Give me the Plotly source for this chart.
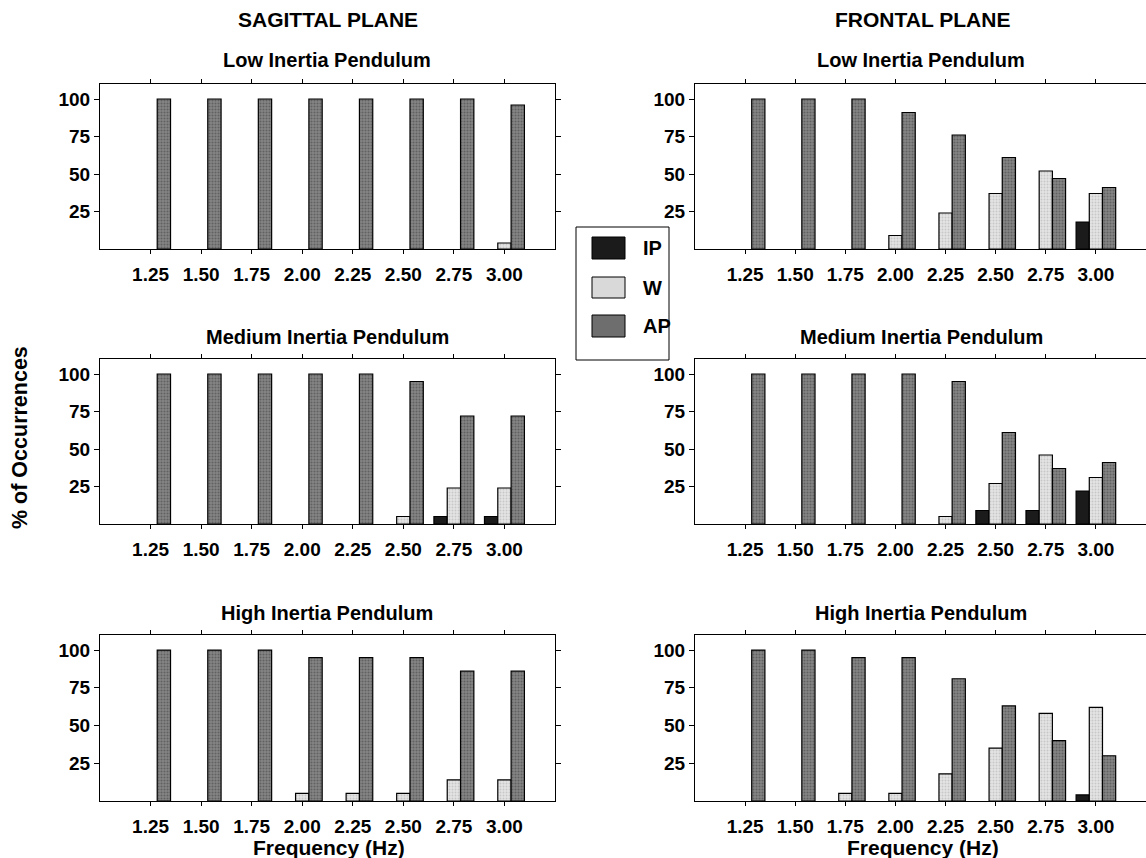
import plotly.graph_objects as go

# Stimulation frequencies (Hz) shared by every panel
frequencies = [1.25, 1.50, 1.75, 2.00, 2.25, 2.50, 2.75, 3.00]
freq_labels = ["1.25", "1.50", "1.75", "2.00", "2.25", "2.50", "2.75", "3.00"]
series_names = ["IP", "W", "AP"]
y_ticks = [25, 50, 75, 100]
y_tick_labels = ["25", "50", "75", "100"]

# Sagittal plane: % of occurrences per coordination pattern
sag_low_ip = [0, 0, 0, 0, 0, 0, 0, 0]
sag_low_w = [0, 0, 0, 0, 0, 0, 0, 4]
sag_low_ap = [100, 100, 100, 100, 100, 100, 100, 96]

sag_med_ip = [0, 0, 0, 0, 0, 0, 5, 5]
sag_med_w = [0, 0, 0, 0, 0, 5, 24, 24]
sag_med_ap = [100, 100, 100, 100, 100, 95, 72, 72]

sag_high_ip = [0, 0, 0, 0, 0, 0, 0, 0]
sag_high_w = [0, 0, 0, 5, 5, 5, 14, 14]
sag_high_ap = [100, 100, 100, 95, 95, 95, 86, 86]

# Frontal plane
fro_low_ip = [0, 0, 0, 0, 0, 0, 0, 18]
fro_low_w = [0, 0, 0, 9, 24, 37, 52, 37]
fro_low_ap = [100, 100, 100, 91, 76, 61, 47, 41]

fro_med_ip = [0, 0, 0, 0, 0, 9, 9, 22]
fro_med_w = [0, 0, 0, 0, 5, 27, 46, 31]
fro_med_ap = [100, 100, 100, 100, 95, 61, 37, 41]

fro_high_ip = [0, 0, 0, 0, 0, 0, 0, 4]
fro_high_w = [0, 0, 5, 5, 18, 35, 58, 62]
fro_high_ap = [100, 100, 95, 95, 81, 63, 40, 30]

panel_titles = ["Low Inertia Pendulum", "Medium Inertia Pendulum", "High Inertia Pendulum"]
plane_titles = ["SAGITTAL PLANE", "FRONTAL PLANE"]

W, H = 1146, 858
FONT = "Liberation Sans, Arial, Helvetica, sans-serif"


def px(x):
    return x / W


def py(y):
    return 1 - y / H


# fill styles for the three patterns
styles = {
    "IP": dict(color="#1b1b1b", pattern=dict(shape="")),
    "W": dict(color="#d9d9d9",
              pattern=dict(shape=".", fgcolor="#a9a9a9", bgcolor="#e4e4e4", size=3, solidity=0.35)),
    "AP": dict(color="#6e6e6e",
               pattern=dict(shape=".", fgcolor="#3e3e3e", bgcolor="#858585", size=3, solidity=0.4)),
}

# column pixel extents and row pixel extents of the plotting frames
col_x = [(100, 555), (695, 1146)]
row_y = [(84, 249), (359, 524), (635, 801)]
col_center = [327, 921]
title_y = [60, 337, 613]

panels = [
    (0, 0, sag_low_ip, sag_low_w, sag_low_ap),
    (1, 0, sag_med_ip, sag_med_w, sag_med_ap),
    (2, 0, sag_high_ip, sag_high_w, sag_high_ap),
    (0, 1, fro_low_ip, fro_low_w, fro_low_ap),
    (1, 1, fro_med_ip, fro_med_w, fro_med_ap),
    (2, 1, fro_high_ip, fro_high_w, fro_high_ap),
]

fig = go.Figure()
layout = {}
tick_font = dict(family=FONT, size=19, color="black", weight="bold")

for i, (r, c, ip, w, ap) in enumerate(panels, start=1):
    xname = "x" if i == 1 else f"x{i}"
    yname = "y" if i == 1 else f"y{i}"
    for name, vals in zip(series_names, [ip, w, ap]):
        # empty categories get no bar at all
        heights = [v if v > 0 else None for v in vals]
        fig.add_trace(go.Bar(
            x=frequencies, y=heights, name=name, xaxis=xname, yaxis=yname,
            marker=dict(color=styles[name]["color"], pattern=styles[name]["pattern"],
                        line=dict(color="black", width=1.2)),
            showlegend=False,
        ))
    x0, x1 = col_x[c]
    y0, y1 = row_y[r]
    layout["xaxis" if i == 1 else f"xaxis{i}"] = dict(
        domain=[px(x0), px(x1)], anchor=yname, range=[1.0, 3.25],
        tickmode="array", tickvals=frequencies, ticktext=freq_labels,
        ticks="outside", ticklen=4, tickwidth=1, tickcolor="black",
        showline=True, linecolor="black", linewidth=1, mirror="ticks",
        showgrid=False, zeroline=False, tickfont=tick_font, ticklabelstandoff=4,
        fixedrange=True,
    )
    layout["yaxis" if i == 1 else f"yaxis{i}"] = dict(
        domain=[py(y1), py(y0)], anchor=xname, range=[0, 110],
        tickmode="array", tickvals=y_ticks, ticktext=y_tick_labels,
        ticks="outside", ticklen=5, tickwidth=1, tickcolor="black",
        showline=True, linecolor="black", linewidth=1,
        mirror="ticks" if c == 0 else False,
        showgrid=False, zeroline=False, tickfont=tick_font, fixedrange=True,
    )


def label(text, x, y, size, **kw):
    return dict(text=text, x=px(x), y=py(y), xref="paper", yref="paper",
                xanchor=kw.pop("xanchor", "center"), yanchor="middle", showarrow=False,
                font=dict(family=FONT, size=size, color="black", weight="bold"), **kw)


annotations = []
for c in range(2):
    annotations.append(label(plane_titles[c], col_center[c] + 1, 20, 21))
    for r in range(3):
        annotations.append(label(panel_titles[r], col_center[c], title_y[r], 20))
    annotations.append(label("Frequency (Hz)", col_center[c] + 2, 847, 21))

annotations.append(label("% of Occurrences", 20, 438, 21.5, textangle=-90))

# legend box with swatches
shapes = [dict(type="rect", xref="paper", yref="paper", x0=px(576), x1=px(669),
               y0=py(360), y1=py(227), line=dict(color="black", width=1), fillcolor="white")]
swatch_y = [(237, 259), (277, 298), (315, 337)]
for name, (s0, s1) in zip(series_names, swatch_y):
    shapes.append(dict(type="rect", xref="paper", yref="paper", x0=px(592), x1=px(625),
                       y0=py(s1), y1=py(s0), line=dict(color="black", width=1),
                       fillcolor=styles[name]["color"]))
    annotations.append(label(name, 641, (s0 + s1) / 2, 20, xanchor="left"))

fig.update_layout(
    width=W, height=H, margin=dict(l=0, r=0, t=0, b=0),
    paper_bgcolor="white", plot_bgcolor="white",
    barmode="group", bargap=0.21, bargroupgap=0,
    annotations=annotations, shapes=shapes, showlegend=False,
    **layout,
)

fig.write_html("out.html", config={"displayModeBar": False})
